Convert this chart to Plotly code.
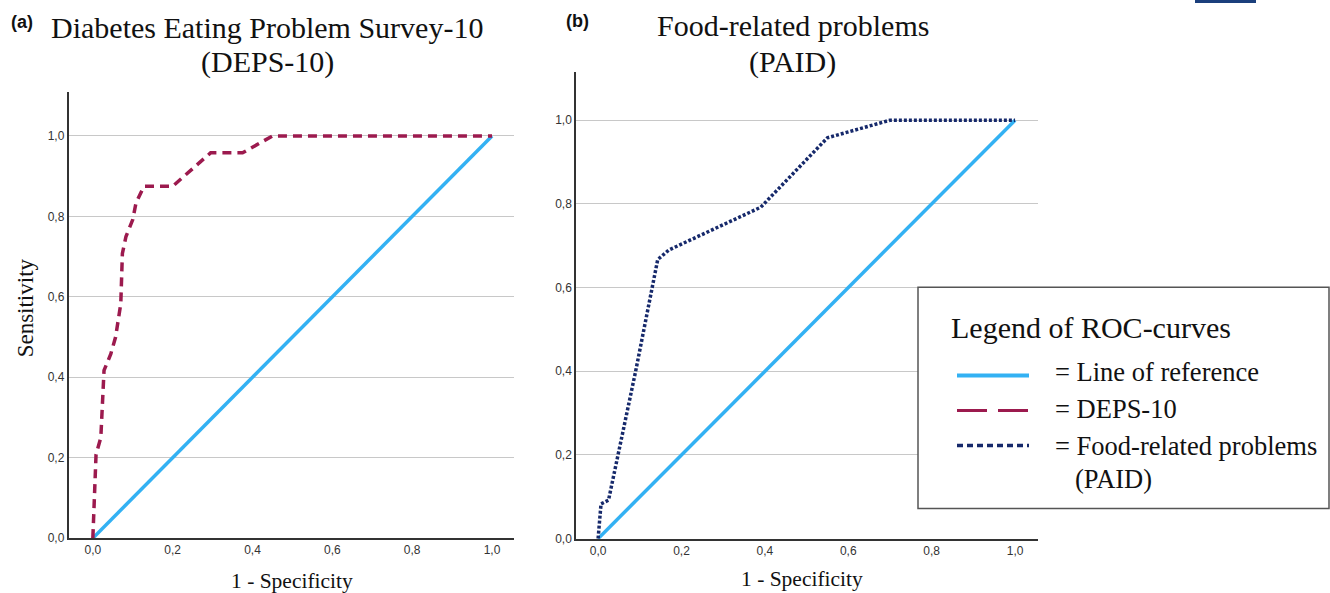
import plotly.graph_objects as go
from plotly.subplots import make_subplots

W, H = 1330, 593
YK = 0.987  # vertical compensation observed in rendering

# ---- data ----
ref_x = [0.0, 1.0]
ref_y = [0.0, 1.0]

deps_fpr = [0.0, 0.008, 0.02, 0.028, 0.045, 0.057, 0.07, 0.074, 0.083, 0.100, 0.108, 0.128, 0.200, 0.295, 0.375, 0.450, 1.0]
deps_tpr = [0.0, 0.208, 0.250, 0.417, 0.458, 0.500, 0.583, 0.708, 0.750, 0.792, 0.833, 0.875, 0.875, 0.958, 0.958, 1.000, 1.0]

paid_fpr = [0.0, 0.007, 0.025, 0.090, 0.143, 0.170, 0.390, 0.550, 0.700, 1.0]
paid_tpr = [0.0, 0.083, 0.092, 0.400, 0.667, 0.690, 0.792, 0.958, 1.000, 1.0]

tick_vals = [0.0, 0.2, 0.4, 0.6, 0.8, 1.0]
tick_text = ["0,0", "0,2", "0,4", "0,6", "0,8", "1,0"]

REF_COLOR = "#33b1f3"
DEPS_COLOR = "#9c1a4e"
PAID_COLOR = "#16296b"


def px(x):
    return x / W


def py(y):
    return max(0.0, 1 - (y / YK) / H)


fig = make_subplots(rows=1, cols=2)

fig.add_trace(go.Scatter(x=ref_x, y=ref_y, mode="lines",
                         line=dict(color=REF_COLOR, width=3.5), showlegend=False), 1, 1)
fig.add_trace(go.Scatter(x=deps_fpr, y=deps_tpr, mode="lines",
                         line=dict(color=DEPS_COLOR, width=3.5, dash="9px,6px"), showlegend=False), 1, 1)
fig.add_trace(go.Scatter(x=ref_x, y=ref_y, mode="lines",
                         line=dict(color=REF_COLOR, width=3.5), showlegend=False), 1, 2)
fig.add_trace(go.Scatter(x=paid_fpr, y=paid_tpr, mode="lines",
                         line=dict(color=PAID_COLOR, width=3.5, dash="3px,2px"), showlegend=False), 1, 2)

axis_common = dict(showline=True, linecolor="#333333", linewidth=1.5, ticks="",
                   tickvals=tick_vals, ticktext=tick_text,
                   tickfont=dict(family="Liberation Sans, Arial", size=12, color="#333333"),
                   zeroline=False)

fig.update_xaxes(axis_common, showgrid=False)
fig.update_yaxes(axis_common, showgrid=True, gridcolor="#c8c8c8", gridwidth=1)

fig.update_layout(
    width=W, height=H,
    margin=dict(l=0, r=0, t=0, b=0),
    paper_bgcolor="white", plot_bgcolor="white",
    xaxis=dict(domain=[px(68.5), px(514)], range=[-0.061, 1.055]),
    yaxis=dict(domain=[py(537.5), py(92)], range=[0, 1.109]),
    xaxis2=dict(domain=[px(576), px(1038)], range=[-0.053, 1.055]),
    yaxis2=dict(domain=[py(538), py(72)], range=[0, 1.115]),
    font=dict(family="Liberation Serif, Times New Roman", color="#111111"),
)

serif = "Liberation Serif, Times New Roman"
ann = []


def text(x, y, s, size, family=serif, xanchor="center", angle=0, bold=False):
    if bold:
        s = "<b>" + s + "</b>"
    ann.append(dict(x=px(x), y=py(y), xref="paper", yref="paper", text=s, showarrow=False,
                    xanchor=xanchor, yanchor="middle", textangle=angle,
                    font=dict(family=family, size=size, color="#111111")))


# panel titles
text(9, 22, "(a)", 18, family="Liberation Sans, Arial", xanchor="left", bold=True)
text(267, 27, "Diabetes Eating Problem Survey-10", 30)
text(267, 62, "(DEPS-10)", 30)
text(564, 21, "(b)", 18, family="Liberation Sans, Arial", xanchor="left", bold=True)
text(793, 25, "Food-related problems", 30)
text(793, 62, "(PAID)", 30)

# axis titles
text(292, 580, "1 - Specificity", 21.5)
text(802, 578, "1 - Specificity", 21.5)
text(25, 308, "Sensitivity", 23, angle=-90)

# legend box
shapes = [
    dict(type="rect", xref="paper", yref="paper", x0=px(918), x1=px(1329), y0=py(508), y1=py(287),
         line=dict(color="#555555", width=1.5), fillcolor="white", layer="above"),
    dict(type="line", xref="paper", yref="paper", x0=px(957), x1=px(1029), y0=py(375), y1=py(375),
         line=dict(color=REF_COLOR, width=4), layer="above"),
    dict(type="line", xref="paper", yref="paper", x0=px(957), x1=px(1029), y0=py(410), y1=py(410),
         line=dict(color=DEPS_COLOR, width=3, dash="30px,11px"), layer="above"),
    dict(type="line", xref="paper", yref="paper", x0=px(957), x1=px(1029), y0=py(445), y1=py(445),
         line=dict(color=PAID_COLOR, width=3.5, dash="6px,4px"), layer="above"),
    dict(type="rect", xref="paper", yref="paper", x0=px(1195), x1=px(1256), y0=py(3), y1=1.0,
         line=dict(width=0), fillcolor="#1b3f7c"),
]

text(949, 327, "Legend of ROC-curves", 30, xanchor="left")
text(1053, 372, "= Line of reference", 26.5, xanchor="left")
text(1053, 409, "= DEPS-10", 26.5, xanchor="left")
text(1053, 445, "= Food-related problems", 26.5, xanchor="left")
text(1073, 478, "(PAID)", 26.5, xanchor="left")

fig.update_layout(annotations=ann, shapes=shapes)

fig.write_html("out.html")
